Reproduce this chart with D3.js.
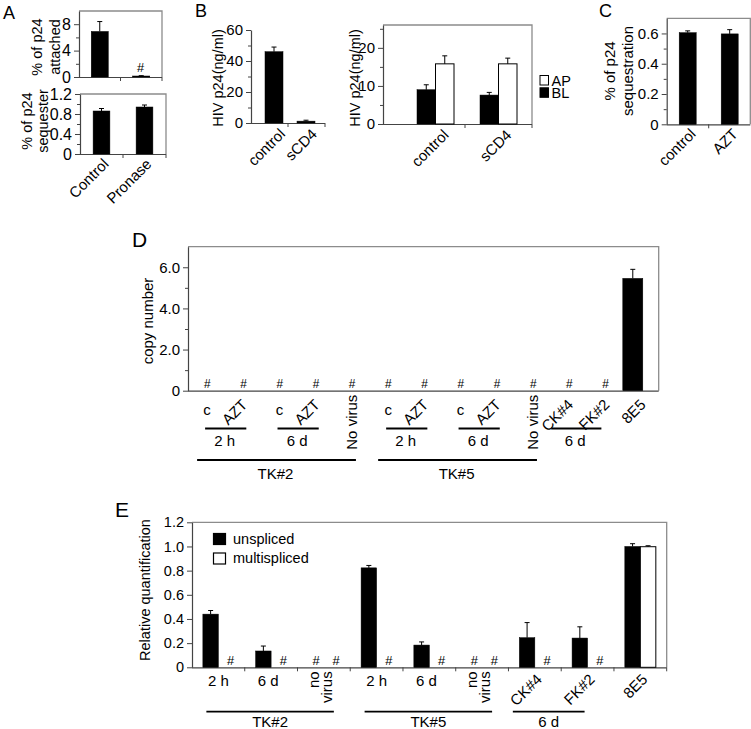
<!DOCTYPE html>
<html><head><meta charset="utf-8">
<script src="https://cdn.jsdelivr.net/npm/d3@7"></script>
<style>
body{margin:0;background:#fff}
svg{display:block}
</style></head><body>
<svg id="c" width="751" height="729"></svg>
<script>
// ---------------- DATA ----------------
// Panel A
const aCats = ["Control", "Pronase"];
const aAttached = [6.9, 0.15];
const aAttachedErr = [1.5, 0.05];
const aAttachedHash = [false, true];
const aSequester = [0.86, 0.94];
const aSequesterErr = [0.05, 0.04];
const aTopTicks = [0, 4, 8];
const aTopMinor = [2, 6];
const aBotTicks = [0, 0.4, 0.8, 1.2];
const aBotMinor = [0.2, 0.6, 1.0];

// Panel B (left)
const bCats = ["control", "sCD4"];
const bTotal = [46, 1.2];
const bTotalErr = [3, 0.6];
const bLeftTicks = [0, 20, 40, 60];
const bLeftMinor = [10, 30, 50];
// Panel B (right)
const bSeries = ["AP", "BL"];
const bBL = [9.0, 7.6];
const bBLErr = [1.3, 0.7];
const bAP = [15.8, 15.8];
const bAPErr = [2.1, 1.5];
const bRightTicks = [0, 10, 20];
const bRightMinor = [5, 15, 25];

// Panel C
const cCats = ["control", "AZT"];
const cVals = [0.605, 0.597];
const cErr = [0.012, 0.028];
const cTicks = [0, 0.2, 0.4, 0.6];
const cMinor = [0.1, 0.3, 0.5];

// Panel D
const dCats = ["c", "AZT", "c", "AZT", "No virus", "c", "AZT", "c", "AZT", "No virus", "CK#4", "FK#2", "8E5"];
const dLabelRot = [0, -45, 0, -45, -90, 0, -45, 0, -45, -90, -45, -45, -45];
const dVals = [0, 0, 0, 0, 0, 0, 0, 0, 0, 0, 0, 0, 5.46];
const dErr = [0, 0, 0, 0, 0, 0, 0, 0, 0, 0, 0, 0, 0.44];
const dHash = [true, true, true, true, true, true, true, true, true, true, true, true, false];
const dTicks = [0, 2, 4, 6];
const dMinor = [1, 3, 5];
const dSub = [
  {label: "2 h", from: 0, to: 1},
  {label: "6 d", from: 2, to: 3},
  {label: "2 h", from: 5, to: 6},
  {label: "6 d", from: 7, to: 8},
  {label: "6 d", from: 10, to: 11}
];
const dGroups = [
  {label: "TK#2", from: 0, to: 4},
  {label: "TK#5", from: 5, to: 9}
];

// Panel E
const eCats = ["2 h", "6 d", "no virus", "2 h", "6 d", "no virus", "CK#4", "FK#2", "8E5"];
const eLabelRot = [0, 0, -90, 0, 0, -90, -45, -45, -45];
const eSeries = ["unspliced", "multispliced"];
const eUns = [0.44, 0.135, 0, 0.823, 0.184, 0, 0.245, 0.242, 1.0];
const eUnsErr = [0.03, 0.041, 0, 0.02, 0.026, 0, 0.125, 0.093, 0.023];
const eUnsHash = [false, false, true, false, false, true, false, false, false];
const eMul = [0, 0, 0, 0, 0, 0, 0, 0, 0.998];
const eMulErr = [0, 0, 0, 0, 0, 0, 0, 0, 0.008];
const eMulHash = [true, true, true, true, true, true, true, true, false];
const eTicks = [0, 0.2, 0.4, 0.6, 0.8, 1.0, 1.2];
const eSub = [{label: "6 d", from: 6, to: 7}];
const eGroups = [
  {label: "TK#2", from: 0, to: 2},
  {label: "TK#5", from: 3, to: 5}
];

// ---------------- DRAWING ----------------
const FONT = '"Liberation Sans", Arial, Helvetica, sans-serif';
const AX = "#444", BOXC = "#8c8c8c";
const svg = d3.select("#c").attr("font-family", FONT);

const fmt1 = d => d === 0 ? "0" : d3.format(".1f")(d);
const fmtI = d => String(d);

function frame(g, o) {
  const [yb, yt] = o.y.range();
  if (o.box) g.append("path").attr("d", `M${o.x0},${yt}H${o.x1}V${yb}`)
    .attr("fill", "none").attr("stroke", BOXC).attr("stroke-width", 1.3);
  const ax = g.append("g").attr("transform", `translate(${o.x0},0)`)
    .call(d3.axisLeft(o.y).tickValues(o.ticks).tickFormat(o.fmt).tickSize(5).tickSizeOuter(0).tickPadding(3));
  ax.select(".domain").attr("stroke", AX).attr("stroke-width", 1.2);
  ax.selectAll(".tick line").attr("stroke", AX);
  ax.selectAll(".tick text").attr("font-size", o.tf || 15).attr("font-family", FONT).attr("fill", "#000");
  if (o.minor) {
    const mx = g.append("g").attr("transform", `translate(${o.x0},0)`)
      .call(d3.axisLeft(o.y).tickValues(o.minor).tickFormat("").tickSize(3).tickSizeOuter(0));
    mx.select(".domain").remove();
    mx.selectAll(".tick line").attr("stroke", AX);
  }
  g.append("line").attr("x1", o.x0).attr("x2", o.x1).attr("y1", yb + 0.5).attr("y2", yb + 0.5)
    .attr("stroke", AX).attr("stroke-width", 1.2);
  if (o.xticks) o.xticks.forEach(t => g.append("line").attr("x1", t).attr("x2", t)
    .attr("y1", yb).attr("y2", yb + 4).attr("stroke", AX));
}

function bars(g, y, items) {
  items.forEach(b => {
    const y0 = y(0), yv = y(b.v);
    g.append("rect").attr("x", b.x).attr("y", yv).attr("width", b.w).attr("height", Math.max(0, y0 - yv))
      .attr("fill", b.fill || "#000").attr("stroke", "#000").attr("stroke-width", b.fill === "#fff" ? 1 : 0.5);
    if (b.e > 0) {
      const cx = b.x + b.w / 2, ye = y(b.v + b.e);
      g.append("line").attr("x1", cx).attr("x2", cx).attr("y1", yv).attr("y2", ye).attr("stroke", "#000");
      g.append("line").attr("x1", cx - 2.5).attr("x2", cx + 2.5).attr("y1", ye).attr("y2", ye).attr("stroke", "#000");
    }
  });
}

function hash(g, x, y, size) {
  g.append("text").attr("x", x).attr("y", y).attr("text-anchor", "middle")
    .attr("font-size", size || 13).attr("font-style", "italic").text("#");
}

function ylabel(g, lines, x, yc, fs, lh) {
  lines.forEach((t, i) => g.append("text")
    .attr("transform", `translate(${x + i * lh},${yc}) rotate(-90)`)
    .attr("text-anchor", "middle").attr("font-size", fs).text(t));
}

function rotLabel(g, t, x, y, fs) {
  g.append("text").attr("transform", `translate(${x},${y}) rotate(-45)`)
    .attr("text-anchor", "end").attr("font-size", fs).text(t);
}

function panelLabel(t, x, y, fs) {
  svg.append("text").attr("x", x).attr("y", y).attr("font-size", fs).text(t);
}

// ---- Panel A ----
{
  const g = svg.append("g");
  const x = d3.scaleBand().domain(aCats).range([79, 162]);
  const y = d3.scaleLinear().domain([0, 10]).range([77, 11]);
  frame(g, {x0: 79, x1: 162, y, ticks: aTopTicks, minor: aTopMinor, fmt: fmtI, box: true, tf: 16,
    xticks: [x(aCats[1]), 162]});
  const w = x.bandwidth() * 0.41;
  bars(g, y, aCats.map((c, i) => ({x: x(c) + x.bandwidth() / 2 - w / 2, w, v: aAttached[i], e: aAttachedErr[i]})));
  aCats.forEach((c, i) => { if (aAttachedHash[i]) hash(g, x(c) + x.bandwidth() / 2 - 1, 72, 13); });
  ylabel(g, ["% of p24", "attached"], 42, 47, 14.5, 18);

  const x2 = d3.scaleBand().domain(aCats).range([80, 166]);
  const y2 = d3.scaleLinear().domain([0, 1.2]).range([154, 94]);
  frame(g, {x0: 80, x1: 166, y: y2, ticks: aBotTicks, minor: aBotMinor, fmt: fmt1, box: true, tf: 16,
    xticks: [x2(aCats[1]), 166]});
  const w2 = x2.bandwidth() * 0.39;
  bars(g, y2, aCats.map((c, i) => ({x: x2(c) + x2.bandwidth() / 2 - w2 / 2, w: w2, v: aSequester[i], e: aSequesterErr[i]})));
  ylabel(g, ["% of p24", "sequester"], 32, 121, 14.5, 16);
  aCats.forEach(c => rotLabel(g, c, x2(c) + x2.bandwidth() / 2 + 8, 165, 15));
  panelLabel("A", 3, 19, 18);
}

// ---- Panel B ----
{
  const g = svg.append("g");
  const x = d3.scaleBand().domain(bCats).range([258, 322]);
  const y = d3.scaleLinear().domain([0, 60]).range([123, 30]);
  frame(g, {x0: 251, x1: 325, y, ticks: bLeftTicks, minor: bLeftMinor, fmt: fmtI, box: false,
    xticks: [x(bCats[1]) - 2, 325]});
  const w = 18;
  bars(g, y, bCats.map((c, i) => ({x: x(c) + x.bandwidth() / 2 - w / 2, w, v: bTotal[i], e: bTotalErr[i]})));
  ylabel(g, ["HIV p24(ng/ml)"], 223, 78, 14.5, 0);
  bCats.forEach(c => rotLabel(g, c, x(c) + x.bandwidth() / 2 + 12, 135, 15));

  const xr = d3.scaleBand().domain(bCats).range([404, 530]);
  const yr = d3.scaleLinear().domain([0, 26]).range([124, 25]);
  frame(g, {x0: 383, x1: 532, y: yr, ticks: bRightTicks, minor: bRightMinor, fmt: fmtI, box: true,
    xticks: [xr(bCats[1]) - 2, 532]});
  const wr = 18.5;
  const items = [];
  bCats.forEach((c, i) => {
    const cx = xr(c) + xr.bandwidth() / 2;
    items.push({x: cx - wr, w: wr, v: bBL[i], e: bBLErr[i], fill: "#000"});
    items.push({x: cx, w: wr, v: bAP[i], e: bAPErr[i], fill: "#fff"});
  });
  bars(g, yr, items);
  ylabel(g, ["HIV p24(ng/ml)"], 360, 78, 14.5, 0);
  bCats.forEach(c => rotLabel(g, c, xr(c) + xr.bandwidth() / 2 + 14, 136, 15));
  // legend
  bSeries.forEach((s, i) => {
    g.append("rect").attr("x", 540).attr("y", 75.5 + i * 12.3).attr("width", 8.5).attr("height", 9.5)
      .attr("fill", s === "AP" ? "#fff" : "#000").attr("stroke", "#000");
    g.append("text").attr("x", 551.5).attr("y", 85.5 + i * 12.3).attr("font-size", 14.5).text(s);
  });
  panelLabel("B", 195, 17, 18);
}

// ---- Panel C ----
{
  const g = svg.append("g");
  const x = d3.scaleBand().domain(cCats).range([666.7, 750.7]);
  const y = d3.scaleLinear().domain([0, 0.7]).range([124.3, 18.3]);
  frame(g, {x0: 666.7, x1: 750.3, y, ticks: cTicks, minor: cMinor, fmt: fmt1, box: true,
    xticks: [x(cCats[1])]});
  const w = 17;
  bars(g, y, cCats.map((c, i) => ({x: x(c) + x.bandwidth() / 2 - w / 2, w, v: cVals[i], e: cErr[i]})));
  ylabel(g, ["% of p24", "sequestration"], 615, 71, 15, 18);
  cCats.forEach(c => rotLabel(g, c, x(c) + x.bandwidth() / 2 + 9, 135, 15));
  panelLabel("C", 599, 17, 18);
}

// ---- Panel D ----
{
  const g = svg.append("g");
  const idx = dCats.map((c, i) => i);
  const x = d3.scaleBand().domain(idx).range([188, 658.7]);
  const y = d3.scaleLinear().domain([0, 7]).range([390.7, 246.7]);
  const cx = i => x(i) + x.bandwidth() / 2;
  frame(g, {x0: 188, x1: 658.7, y, ticks: dTicks, minor: dMinor, fmt: fmt1, box: true, tf: 15});
  const w = 20;
  bars(g, y, idx.filter(i => dVals[i] > 0).map(i => ({x: cx(i) - 17.8, w, v: dVals[i], e: dErr[i]})));
  idx.forEach(i => { if (dHash[i]) hash(g, cx(i) + 1, 388, 12); });
  const yb = y(0);
  idx.forEach(i => {
    const r = dLabelRot[i];
    if (r === 0) g.append("text").attr("x", cx(i) + 1).attr("y", yb + 24).attr("text-anchor", "middle").attr("font-size", 15).text(dCats[i]);
    else if (r === -90) g.append("text").attr("transform", `translate(${cx(i) + 6},${yb + 4}) rotate(-90)`)
      .attr("text-anchor", "end").attr("font-size", 15).text(dCats[i]);
    else rotLabel(g, dCats[i], cx(i) + 6, yb + 15, 15);
  });
  dSub.forEach(s => {
    const rot = dLabelRot[s.from] !== 0;
    const x0 = cx(s.from) + (rot ? -17 : -1), x1 = cx(s.to) + (rot ? -3 : 4);
    g.append("line").attr("x1", x0).attr("x2", x1).attr("y1", 428.5).attr("y2", 428.5).attr("stroke", "#000").attr("stroke-width", 1.8);
    g.append("text").attr("x", (x0 + x1) / 2 - 1).attr("y", 445.5).attr("text-anchor", "middle").attr("font-size", 15).text(s.label);
  });
  dGroups.forEach(s => {
    const x0 = cx(s.from) - 9, x1 = cx(s.to) + 5;
    g.append("line").attr("x1", x0).attr("x2", x1).attr("y1", 460).attr("y2", 460).attr("stroke", "#000").attr("stroke-width", 1.8);
    g.append("text").attr("x", (x0 + x1) / 2 - 1).attr("y", 479).attr("text-anchor", "middle").attr("font-size", 15).text(s.label);
  });
  ylabel(g, ["copy number"], 153, 321, 15, 0);
  panelLabel("D", 132, 247, 21);
}

// ---- Panel E ----
{
  const g = svg.append("g");
  const idx = eCats.map((c, i) => i);
  const x = d3.scaleBand().domain(idx).range([192, 666.7]);
  const y = d3.scaleLinear().domain([0, 1.2]).range([667.3, 522.3]);
  const cx = i => x(i) + x.bandwidth() / 2;
  const xt = idx.slice(1).map(i => x(i)).concat([666.7]);
  frame(g, {x0: 192, x1: 666.7, y, ticks: eTicks, fmt: fmt1, box: true, tf: 14.5, xticks: xt});
  const w = 15.5;
  const items = [];
  idx.forEach(i => {
    if (eUns[i] > 0) items.push({x: cx(i) - w, w, v: eUns[i], e: eUnsErr[i], fill: "#000"});
    if (eMul[i] > 0) items.push({x: cx(i), w, v: eMul[i], e: eMulErr[i], fill: "#fff"});
  });
  bars(g, y, items);
  const yb = y(0);
  idx.forEach(i => {
    if (eUnsHash[i]) hash(g, cx(i) - 8, yb - 2, 13);
    if (eMulHash[i]) hash(g, cx(i) + 12, yb - 2, 13);
  });
  idx.forEach(i => {
    const r = eLabelRot[i];
    if (r === 0) g.append("text").attr("x", cx(i) - (i % 3 === 1 ? 3 : 0)).attr("y", yb + 19).attr("text-anchor", "middle").attr("font-size", 15).text(eCats[i]);
    else if (r === -90) {
      const parts = eCats[i].split(" ");
      parts.forEach((p, k) => g.append("text").attr("transform", `translate(${cx(i) - 5 + k * 13},${yb + 4}) rotate(-90)`)
        .attr("text-anchor", "end").attr("font-size", 15).text(p));
    } else rotLabel(g, eCats[i], cx(i) + 8, yb + 13, 15);
  });
  eSub.forEach(s => {
    const x0 = cx(s.from) - 22, x1 = cx(s.to) - 3;
    g.append("line").attr("x1", x0).attr("x2", x1).attr("y1", 711.7).attr("y2", 711.7).attr("stroke", "#000").attr("stroke-width", 1.8);
    g.append("text").attr("x", (x0 + x1) / 2).attr("y", 727).attr("text-anchor", "middle").attr("font-size", 15).text(s.label);
  });
  eGroups.forEach(s => {
    const x0 = cx(s.from) - 12, x1 = cx(s.to) + 10;
    g.append("line").attr("x1", x0).attr("x2", x1).attr("y1", 711.7).attr("y2", 711.7).attr("stroke", "#000").attr("stroke-width", 1.8);
    g.append("text").attr("x", (x0 + x1) / 2).attr("y", 727).attr("text-anchor", "middle").attr("font-size", 15).text(s.label);
  });
  // legend
  eSeries.forEach((s, i) => {
    g.append("rect").attr("x", 213.5).attr("y", 533.5 + i * 19.5).attr("width", 12).attr("height", 11)
      .attr("fill", i === 0 ? "#000" : "#fff").attr("stroke", "#000").attr("stroke-width", 1.2);
    g.append("text").attr("x", 233).attr("y", 543.5 + i * 19.5).attr("font-size", 14.5).text(s);
  });
  ylabel(g, ["Relative quantification"], 150, 590, 14.5, 0);
  panelLabel("E", 115, 517, 21);
}
</script></body></html>
